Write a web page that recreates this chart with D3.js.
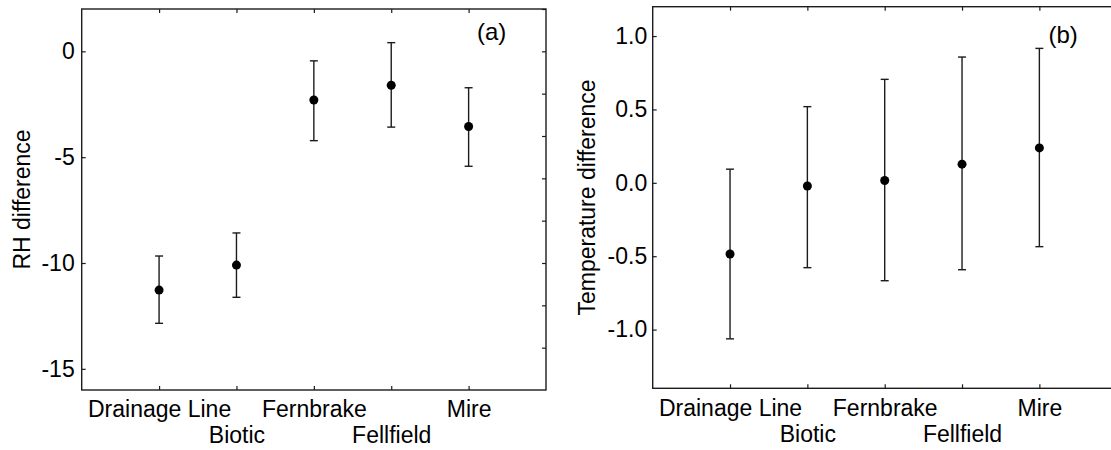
<!DOCTYPE html>
<html>
<head>
<meta charset="utf-8">
<script src="https://cdn.jsdelivr.net/npm/d3@7"></script>
<style>
  html, body { margin: 0; padding: 0; background: #fff; }
  svg { display: block; font-family: "Liberation Sans", Arial, sans-serif; }
</style>
</head>
<body>
<svg id="chart" width="1111" height="450"></svg>
<script>
// Habitat categories (shared by both panels)
const categories = ["Drainage Line", "Biotic", "Fernbrake", "Fellfield", "Mire"];

// Panel (a): relative humidity difference, mean with lower/upper bounds
const rhMean  = [-11.28, -10.10, -2.30, -1.60, -3.55];
const rhLower = [-12.85, -11.62, -4.22, -3.58, -5.43];
const rhUpper = [-9.67, -8.58, -0.45, 0.41, -1.72];
const rhTicks = [0, -5, -10, -15];
const rhMinorTicks = [2, 0, -2, -4, -6, -8, -10, -12, -14];

// Panel (b): temperature difference, mean with lower/upper bounds
const tMean  = [-0.485, -0.022, 0.016, 0.127, 0.238];
const tLower = [-1.063, -0.578, -0.667, -0.592, -0.435];
const tUpper = [0.093, 0.519, 0.705, 0.857, 0.916];
const tTicks = [1.0, 0.5, 0.0, -0.5, -1.0];

const svg = d3.select("#chart");
const FONT = 23;
const INK = "#1c1c1c";

function panel(cfg) {
  const { left, top, width, height, domain, mean, lower, upper,
          ticks, fmt, rightTicks, title, titleX, tag, tagX, tagY, tickPad } = cfg;

  const g = svg.append("g");
  const x = d3.scaleLinear().domain([0, categories.length + 1]).range([left, left + width]);
  const y = d3.scaleLinear().domain(domain).range([top + height, top]);
  const idx = d3.range(categories.length);

  // Frame
  g.append("rect")
    .attr("x", left).attr("y", top)
    .attr("width", width).attr("height", height)
    .attr("fill", "none").attr("stroke", INK).attr("stroke-width", 1.4);

  // Left axis with labels, ticks pointing inward
  const ya = g.append("g").attr("transform", `translate(${left},0)`)
    .call(d3.axisLeft(y).tickValues(ticks).tickFormat(fmt).tickSize(-4).tickPadding(tickPad));
  ya.select(".domain").remove();
  ya.selectAll("line").attr("stroke", INK).attr("stroke-width", 1.2);
  ya.selectAll("text").attr("font-size", FONT).attr("fill", "#000")
    .style("font-family", "Liberation Sans, Arial, sans-serif");

  // Right axis: unlabeled inward ticks
  if (rightTicks) {
    const ra = g.append("g").attr("transform", `translate(${left + width},0)`)
      .call(d3.axisRight(y).tickValues(rightTicks).tickFormat("").tickSize(-4));
    ra.select(".domain").remove();
    ra.selectAll("line").attr("stroke", INK).attr("stroke-width", 1.2);
  }

  // Top axis: unlabeled inward ticks at categories
  const ta = g.append("g").attr("transform", `translate(0,${top})`)
    .call(d3.axisTop(x).tickValues(idx.map(i => i + 1)).tickFormat("").tickSize(-4));
  ta.select(".domain").remove();
  ta.selectAll("line").attr("stroke", INK).attr("stroke-width", 1.2);

  // Bottom axis: category labels staggered over two rows
  const ba = g.append("g").attr("transform", `translate(0,${top + height})`)
    .call(d3.axisBottom(x).tickValues(idx.map(i => i + 1))
      .tickFormat(d => categories[d - 1]).tickSize(-4).tickPadding(11));
  ba.select(".domain").remove();
  ba.selectAll("line").attr("stroke", INK).attr("stroke-width", 1.2);
  ba.selectAll("text").attr("font-size", FONT).attr("fill", "#000")
    .style("font-family", "Liberation Sans, Arial, sans-serif")
    .attr("y", (d, i) => (i % 2 === 1 ? 37 : 11));

  // Error bars
  const bars = g.append("g").attr("stroke", INK).attr("stroke-width", 1.4);
  idx.forEach(i => {
    const cx = x(i + 1);
    bars.append("line").attr("x1", cx).attr("x2", cx)
      .attr("y1", y(lower[i])).attr("y2", y(upper[i]));
    bars.append("line").attr("x1", cx - 4).attr("x2", cx + 4)
      .attr("y1", y(lower[i])).attr("y2", y(lower[i]));
    bars.append("line").attr("x1", cx - 4).attr("x2", cx + 4)
      .attr("y1", y(upper[i])).attr("y2", y(upper[i]));
  });

  // Mean points
  g.append("g").selectAll("circle").data(idx).join("circle")
    .attr("cx", i => x(i + 1)).attr("cy", i => y(mean[i]))
    .attr("r", 4.5).attr("fill", "#000");

  // Y-axis title
  g.append("text")
    .attr("transform", `translate(${titleX},${top + height / 2}) rotate(-90)`)
    .attr("text-anchor", "middle")
    .attr("font-size", FONT).attr("fill", "#000")
    .text(title);

  // Panel tag
  g.append("text")
    .attr("x", tagX).attr("y", tagY)
    .attr("font-size", 24).attr("fill", "#000")
    .text(tag);
}

panel({
  left: 81.7, top: 9, width: 464.3, height: 381,
  domain: [-16, 2],
  mean: rhMean, lower: rhLower, upper: rhUpper,
  ticks: rhTicks, fmt: d => String(d), rightTicks: rhMinorTicks,
  title: "RH difference", titleX: 30,
  tag: "(a)", tagX: 477, tagY: 39.5, tickPad: 7
});

panel({
  left: 652.7, top: 6.7, width: 464, height: 381.6,
  domain: [-1.4, 1.2],
  mean: tMean, lower: tLower, upper: tUpper,
  ticks: tTicks, fmt: d => d.toFixed(1), rightTicks: null,
  title: "Temperature difference", titleX: 595,
  tag: "(b)", tagX: 1048.5, tagY: 42.5, tickPad: 5.5
});
</script>
</body>
</html>
